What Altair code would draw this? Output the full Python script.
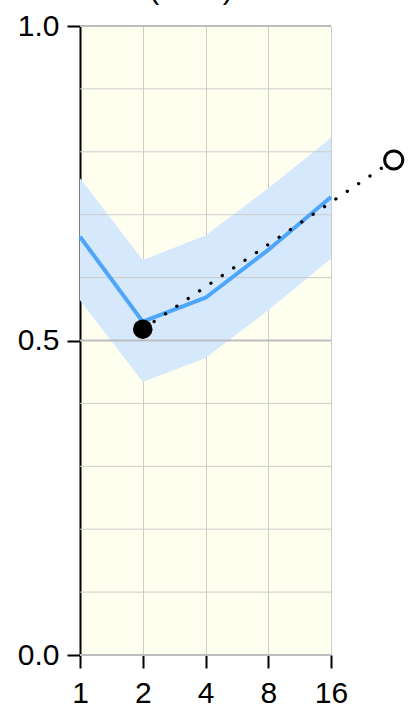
import altair as alt
import pandas as pd

# Mean curve with its uncertainty band, sampled at doubling sizes
sizes = [1, 2, 4, 8, 16]
mean_vals = [0.665, 0.530, 0.568, 0.644, 0.728]
band_low = [0.564, 0.434, 0.472, 0.548, 0.630]
band_high = [0.758, 0.628, 0.667, 0.742, 0.822]

# Reference trend: start point and extrapolated end point
trend_x = [2, 32]
trend_y = [0.518, 0.787]

# Horizontal gridlines
minor_grid = [0.1, 0.2, 0.3, 0.4, 0.6, 0.7, 0.8, 0.9]
major_grid = [0.0, 0.5, 1.0]

# Panel heading
heading = ["(AUC)"]

curve = pd.DataFrame({"x": sizes, "mean": mean_vals, "lo": band_low, "hi": band_high})
trend = pd.DataFrame({"x": trend_x, "y": trend_y})
start_pt = trend.iloc[[0]]
end_pt = trend.iloc[[1]]
minor_df = pd.DataFrame({"y": minor_grid})
major_df = pd.DataFrame({"y": major_grid})
heading_df = pd.DataFrame({"label": heading})

FONT = "Liberation Sans"

xscale = alt.Scale(type="log", base=2, domain=[1, 16], nice=False)
yscale = alt.Scale(domain=[0, 1], nice=False, zero=False)

x_axis = alt.Axis(
    values=sizes, format="d", title=None, grid=True, gridColor="#cccccc", gridWidth=1,
    domain=False, tickColor="black", tickWidth=2, tickSize=13, labelFlush=False,
    labelFont=FONT, labelFontSize=30, labelColor="black", labelPadding=10,
)
y_axis = alt.Axis(
    values=major_grid, format=".1f", title=None, grid=False, labelFlush=False,
    domainColor="black", domainWidth=2, tickColor="black", tickWidth=2, tickSize=13,
    labelFont=FONT, labelFontSize=30, labelColor="black", labelPadding=8,
)

X = alt.X("x:Q", scale=xscale, axis=x_axis)

minor = alt.Chart(minor_df).mark_rule(color="#cccccc", strokeWidth=1).encode(
    y=alt.Y("y:Q", scale=yscale, axis=y_axis)
)
major = alt.Chart(major_df).mark_rule(color="#bdbdbd", strokeWidth=2).encode(
    y=alt.Y("y:Q", scale=yscale, axis=y_axis)
)

band = alt.Chart(curve).mark_area(color="#d6e8fb", opacity=1).encode(
    x=X,
    y=alt.Y("lo:Q", scale=yscale, axis=y_axis),
    y2="hi:Q",
)

line = alt.Chart(curve).mark_line(color="#4ea6fb", strokeWidth=4).encode(
    x=X,
    y=alt.Y("mean:Q", scale=yscale, axis=y_axis),
)

dotted = alt.Chart(trend).mark_line(
    color="black", strokeWidth=3.3, strokeDash=[0.1, 13.6], strokeCap="round", clip=False
).encode(
    x=X,
    y=alt.Y("y:Q", scale=yscale, axis=y_axis),
)

start = alt.Chart(start_pt).mark_point(
    shape="circle", filled=True, color="black", size=380, opacity=1, clip=False
).encode(x=X, y=alt.Y("y:Q", scale=yscale, axis=y_axis))

end = alt.Chart(end_pt).mark_point(
    shape="circle", fill="white", stroke="black", strokeWidth=3, size=330,
    opacity=1, fillOpacity=1, clip=False
).encode(x=X, y=alt.Y("y:Q", scale=yscale, axis=y_axis))

# Heading sits above the panel, mostly beyond the top edge
title = alt.Chart(heading_df).mark_text(
    font=FONT, fontSize=30, color="black", align="center", baseline="alphabetic", clip=False
).encode(text="label:N", x=alt.value(111), y=alt.value(-27))

chart = (
    alt.layer(band, minor, major, line, dotted, start, end, title)
    .properties(
        width=251,
        height=629,
        autosize=alt.AutoSizeParams(type="none"),
        padding={"left": 80, "top": 26, "right": 79, "bottom": 54},
    )
    .configure_view(fill="#fffff0", stroke=None)
)

chart.save("out.html", embed_options={"renderer": "svg", "actions": False})
